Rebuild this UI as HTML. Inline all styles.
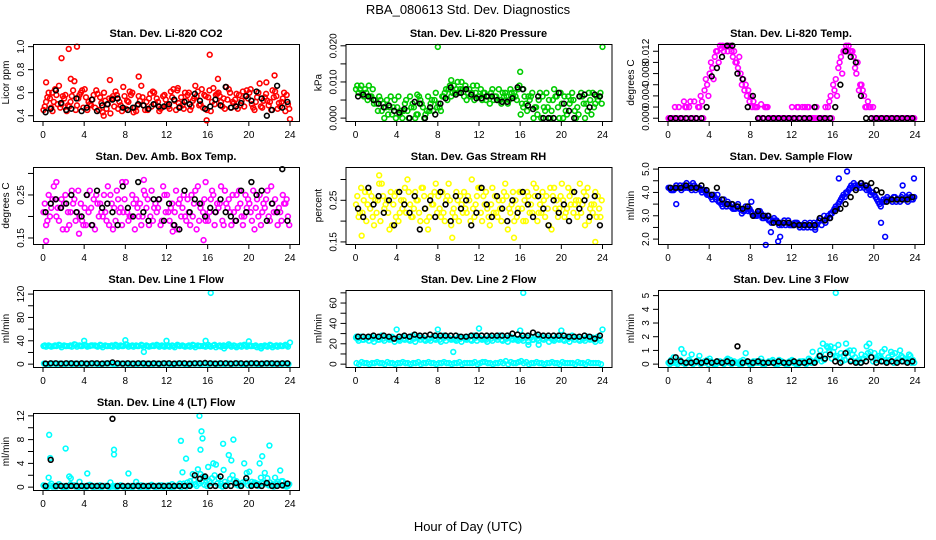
<!DOCTYPE html>
<html><head><meta charset="utf-8"><style>
html,body{margin:0;padding:0;background:#fff;}
svg{display:block;font-family:"Liberation Sans",Arial,sans-serif;}
</style></head><body>
<svg id="chart" width="936" height="540" viewBox="0 0 936 540">
<text x="468" y="14" text-anchor="middle" font-size="13">RBA_080613  Std. Dev. Diagnostics</text>
<text x="468" y="531" text-anchor="middle" font-size="13">Hour of Day (UTC)</text>
</svg>
<script>
// ---------- data (hour of day = i*0.5 + offset) ----------
const xTicks=[0,4,8,12,16,20,24];
// Panel 1: CO2
const co2A=[0.45,0.60,0.52,0.66,0.55,0.48,0.70,0.58,0.63,0.50,0.47,0.56,0.53,0.42,0.61,0.49,0.46,0.58,0.44,0.66,0.52,0.48,0.55,0.47,0.50,0.56,0.62,0.49,0.58,0.53,0.61,0.47,0.56,0.64,0.60,0.55,0.63,0.51,0.58,0.48,0.60,0.45,0.68,0.56,0.52,0.61,0.48,0.44];
const co2B=[0.52,0.47,0.58,0.50,0.44,0.57,0.49,0.62,0.45,0.54,0.59,0.43,0.50,0.57,0.46,0.65,0.52,0.43,0.57,0.49,0.55,0.60,0.44,0.58,0.46,0.53,0.48,0.60,0.45,0.66,0.50,0.57,0.44,0.58,0.52,0.65,0.47,0.59,0.53,0.62,0.50,0.56,0.47,0.53,0.62,0.46,0.55,0.50];
const co2C=[0.48,0.55,0.63,0.47,0.58,0.52,0.45,0.60,0.56,0.49,0.62,0.51,0.46,0.55,0.58,0.44,0.53,0.60,0.49,0.56,0.45,0.61,0.52,0.57,0.48,0.63,0.51,0.46,0.60,0.55,0.49,0.58,0.62,0.50,0.57,0.46,0.60,0.54,0.49,0.57,0.63,0.52,0.48,0.59,0.45,0.57,0.52,0.58];
const co2D=[0.56,0.44,0.50,0.57,0.49,0.62,0.55,0.47,0.52,0.58,0.45,0.60,0.55,0.48,0.52,0.57,0.61,0.47,0.53,0.45,0.59,0.50,0.46,0.54,0.61,0.45,0.56,0.53,0.48,0.57,0.63,0.45,0.52,0.59,0.48,0.54,0.52,0.46,0.61,0.55,0.47,0.60,0.53,0.49,0.56,0.51,0.60,0.46];
const co2OutX=[0.3,1.8,2.5,3.3,2.7,6.5,9.3,16.2,22.5,15.9,24,17,21.7,0.9,5.9,13.1];
const co2OutY=[0.69,0.90,0.98,1.00,0.72,0.71,0.74,0.93,0.75,0.36,0.37,0.72,0.69,0.60,0.40,0.64];
const co2K=[0.43,0.46,0.62,0.51,0.45,0.46,0.55,0.44,0.47,0.54,0.44,0.49,0.50,0.54,0.55,0.47,0.45,0.47,0.50,0.49,0.46,0.50,0.48,0.48,0.50,0.54,0.47,0.52,0.50,0.59,0.53,0.46,0.48,0.54,0.49,0.65,0.47,0.48,0.51,0.57,0.53,0.61,0.55,0.40,0.45,0.66,0.47,0.52];
// Panel 2: pressure
const presA=[0.008,0.009,0.007,0.006,0.004,0.002,0.005,0.001,0.003,0.000,0.002,0.004,0.001,0.003,0.006,0.002,0.004,0.006,0.008,0.009,0.007,0.006,0.008,0.005,0.006,0.007,0.004,0.006,0.005,0.007,0.008,0.006,0.001,0.004,0.006,0.003,0.000,0.007,0.002,0.006,0.004,0.001,0.007,0.003,0.006,0.002,0.007,0.005];
const presB=[0.007,0.006,0.009,0.004,0.006,0.000,0.003,0.005,0.001,0.004,0.006,0.000,0.005,0.001,0.004,0.007,0.002,0.008,0.006,0.008,0.010,0.005,0.007,0.009,0.005,0.006,0.008,0.005,0.007,0.004,0.006,0.008,0.003,0.006,0.000,0.005,0.003,0.005,0.008,0.000,0.006,0.004,0.002,0.006,0.000,0.005,0.004,0.007];
const presC=[0.009,0.007,0.005,0.008,0.002,0.004,0.001,0.003,0.006,0.002,0.000,0.003,0.006,0.000,0.002,0.005,0.003,0.007,0.009,0.007,0.008,0.009,0.006,0.007,0.008,0.005,0.007,0.006,0.004,0.006,0.007,0.005,0.004,0.002,0.007,0.001,0.006,0.003,0.005,0.003,0.000,0.006,0.005,0.001,0.004,0.007,0.003,0.006];
const presD=[0.008,0.008,0.006,0.005,0.005,0.003,0.006,0.000,0.002,0.005,0.003,0.001,0.004,0.002,0.005,0.003,0.006,0.005,0.007,0.010,0.008,0.007,0.009,0.006,0.007,0.006,0.005,0.008,0.006,0.005,0.007,0.009,0.006,0.005,0.003,0.007,0.002,0.000,0.006,0.007,0.002,0.005,0.000,0.007,0.004,0.001,0.006,0.004];
const presOutX=[8,16,24,9.3,6,16.3];
const presOutY=[0.0197,0.0128,0.0197,0.0105,0.0065,0.0080];
const presK=[0.006,0.0065,0.006,0.005,0.004,0.003,0.0035,0.002,0.0015,0.0025,0,0.0045,0.004,0,0.003,0.001,0.004,0.0055,0.0085,0.0065,0.007,0.008,0.0065,0.0055,0.0055,0.006,0.006,0.005,0.0045,0.0045,0.0055,0.0085,0.008,0.0035,0.0025,0.006,0,0,0,0.007,0.004,0.002,0,0.006,0.0065,0.003,0.0065,0.006];
// Panel 3: Li-820 temp
const tempA=[0,0,0.002,0.003,0.002,0.003,0.002,0.005,0.008,0.011,0.013,0.0128,0.013,0.010,0.008,0.006,0.004,0.002,0.0025,0.002,0,0,0,0,0.002,0.002,0.002,0.002,0,0,0,0.002,0.006,0.009,0.012,0.013,0.011,0.005,0.004,0.002,0,0,0,0,0,0,0,0];
const tempB=[0,0,0,0.002,0,0,0.003,0.006,0.009,0.012,0.013,0.012,0.011,0.009,0.007,0.005,0.003,0,0,0,0,0,0,0,0,0,0.002,0,0,0,0.002,0.004,0.007,0.011,0.013,0.012,0.008,0.006,0.002,0,0,0,0,0,0,0,0,0];
const tempC=[0,0.002,0,0.002,0.003,0,0.004,0.007,0.010,0.012,0.0125,0.013,0.012,0.010,0.006,0.004,0.002,0.002,0,0.002,0,0,0,0,0,0.002,0,0.002,0,0,0,0.003,0.005,0.010,0.012,0.012,0.009,0.006,0.002,0.002,0,0,0,0,0,0,0,0];
const tempD=[0,0,0,0,0,0.002,0,0.004,0.007,0.010,0.012,0.013,0.012,0.011,0.005,0.003,0.002,0,0.002,0,0,0,0,0,0,0,0,0,0.002,0,0,0,0.004,0.008,0.012,0.012,0.010,0.005,0.003,0.002,0,0,0,0,0,0,0,0];
const tempK=[0,0,0,0,0,0,0,0.002,0.0075,0.009,0.011,0.013,0.013,0.008,0.007,0.002,0.004,0,0,0,0,0,0,0,0,0,0,0,0.002,0,0,0,0.002,0.006,0.012,0.011,0.010,0.004,0,0,0,0,0,0,0,0,0,0];
// Panel 4: amb box temp
const ambA=[0.21,0.25,0.27,0.19,0.23,0.18,0.24,0.20,0.22,0.26,0.17,0.23,0.21,0.25,0.19,0.22,0.28,0.20,0.24,0.18,0.22,0.26,0.21,0.19,0.25,0.23,0.17,0.22,0.24,0.20,0.27,0.21,0.19,0.25,0.22,0.18,0.24,0.21,0.26,0.20,0.23,0.17,0.25,0.22,0.19,0.24,0.21,0.23];
const ambB=[0.18,0.22,0.20,0.24,0.17,0.26,0.21,0.19,0.25,0.18,0.23,0.20,0.27,0.17,0.24,0.21,0.19,0.23,0.20,0.26,0.18,0.22,0.24,0.25,0.19,0.21,0.24,0.20,0.18,0.26,0.22,0.19,0.24,0.21,0.27,0.23,0.18,0.25,0.20,0.22,0.19,0.24,0.21,0.26,0.23,0.18,0.25,0.20];
const ambC=[0.23,0.20,0.24,0.22,0.25,0.21,0.19,0.23,0.18,0.22,0.25,0.21,0.19,0.23,0.26,0.18,0.21,0.25,0.22,0.20,0.24,0.19,0.22,0.27,0.21,0.18,0.23,0.25,0.21,0.23,0.19,0.24,0.21,0.18,0.23,0.26,0.21,0.19,0.23,0.25,0.21,0.22,0.18,0.24,0.27,0.21,0.19,0.24];
const ambD=[0.19,0.24,0.22,0.17,0.21,0.23,0.26,0.18,0.21,0.24,0.20,0.25,0.18,0.22,0.21,0.24,0.20,0.17,0.23,0.25,0.20,0.23,0.18,0.21,0.22,0.26,0.20,0.19,0.25,0.17,0.23,0.20,0.26,0.23,0.19,0.22,0.25,0.22,0.18,0.24,0.26,0.20,0.23,0.20,0.21,0.22,0.23,0.18];
const ambOutX=[0.3,1.3,15.6,7.7,9.8,15.8,3.5,12.6];
const ambOutY=[0.143,0.28,0.145,0.28,0.285,0.28,0.16,0.165];
const ambK=[0.21,0.23,0.24,0.22,0.23,0.25,0.21,0.20,0.25,0.18,0.26,0.22,0.23,0.21,0.18,0.27,0.22,0.20,0.28,0.21,0.19,0.24,0.24,0.19,0.23,0.18,0.17,0.26,0.21,0.24,0.23,0.20,0.22,0.21,0.24,0.21,0.20,0.19,0.26,0.21,0.28,0.25,0.26,0.19,0.23,0.21,0.31,0.19];
// Panel 5: gas stream RH
const rhA=[0.24,0.28,0.20,0.26,0.22,0.29,0.25,0.19,0.27,0.23,0.30,0.21,0.25,0.28,0.18,0.24,0.26,0.22,0.29,0.23,0.20,0.27,0.25,0.21,0.28,0.24,0.19,0.26,0.23,0.29,0.22,0.25,0.27,0.20,0.24,0.28,0.22,0.26,0.18,0.25,0.29,0.23,0.27,0.21,0.24,0.28,0.22,0.26];
const rhB=[0.21,0.25,0.27,0.19,0.29,0.23,0.18,0.26,0.22,0.28,0.24,0.27,0.20,0.23,0.26,0.29,0.21,0.25,0.19,0.27,0.24,0.22,0.30,0.26,0.20,0.23,0.28,0.21,0.25,0.18,0.27,0.23,0.20,0.26,0.29,0.22,0.25,0.19,0.28,0.23,0.21,0.26,0.24,0.29,0.19,0.23,0.27,0.21];
const rhC=[0.26,0.22,0.24,0.21,0.25,0.26,0.22,0.24,0.20,0.25,0.27,0.23,0.22,0.26,0.21,0.27,0.23,0.20,0.25,0.21,0.26,0.23,0.20,0.24,0.22,0.27,0.24,0.22,0.20,0.26,0.24,0.21,0.23,0.27,0.22,0.20,0.27,0.23,0.26,0.21,0.25,0.28,0.22,0.25,0.27,0.20,0.24,0.23];
const rhD=[0.22,0.27,0.23,0.25,0.20,0.24,0.27,0.21,0.25,0.22,0.21,0.25,0.28,0.20,0.24,0.22,0.27,0.26,0.22,0.25,0.22,0.26,0.23,0.28,0.26,0.21,0.22,0.25,0.27,0.23,0.20,0.27,0.25,0.22,0.26,0.24,0.21,0.28,0.23,0.26,0.22,0.24,0.25,0.22,0.26,0.24,0.21,0.25];
const rhOutX=[0.6,2.3,9.4,15.4,23.3];
const rhOutY=[0.165,0.31,0.16,0.16,0.15];
const rhK=[0.23,0.21,0.28,0.24,0.26,0.22,0.25,0.19,0.27,0.24,0.22,0.26,0.18,0.23,0.25,0.21,0.27,0.24,0.20,0.26,0.23,0.25,0.19,0.22,0.28,0.24,0.21,0.26,0.23,0.20,0.25,0.22,0.27,0.24,0.21,0.26,0.23,0.19,0.25,0.22,0.24,0.20,0.27,0.23,0.25,0.21,0.26,0.19];
// Panel 6: sample flow
const flowA=[4.2,4.1,4.2,4.3,4.2,4.3,4.2,4.1,3.9,3.8,3.6,3.5,3.4,3.3,3.3,3.4,3.2,3.0,3.1,2.9,2.7,2.8,2.6,2.7,2.6,2.7,2.6,2.5,2.6,2.7,2.8,3.0,3.2,3.5,3.9,4.1,4.4,4.3,4.2,4.1,3.9,3.5,3.6,3.7,3.8,3.6,3.7,3.8];
const flowB=[4.1,4.3,4.1,4.4,4.1,4.2,4.0,3.9,3.7,3.9,3.4,3.6,3.3,3.5,3.2,3.2,3.0,3.1,2.9,2.8,2.9,2.6,2.8,2.6,2.7,2.5,2.7,2.7,2.5,2.9,2.7,3.1,3.4,3.7,4.0,4.3,4.2,4.4,4.1,4.0,3.7,3.6,3.8,3.6,3.7,3.9,3.6,3.7];
const flowC=[4.2,4.2,4.3,4.2,4.3,4.1,4.1,4.0,3.8,3.7,3.5,3.4,3.5,3.4,3.1,3.3,3.1,3.0,2.9,3.0,2.8,2.7,2.7,2.8,2.6,2.6,2.5,2.6,2.7,2.8,3.0,2.9,3.3,3.6,3.8,4.2,4.3,4.2,4.3,3.9,3.8,3.4,3.7,3.7,3.6,3.8,3.8,3.7];
const flowD=[4.1,4.2,4.2,4.2,4.4,4.2,4.1,3.9,3.9,3.6,3.7,3.5,3.3,3.3,3.2,3.3,3.0,3.2,3.0,2.8,2.8,2.7,2.6,2.6,2.7,2.6,2.6,2.5,2.6,2.6,2.9,3.1,3.3,3.8,4.0,4.2,4.3,4.3,4.2,4.0,3.6,3.7,3.7,3.8,3.7,3.7,3.9,3.8];
const flowOutX=[0.8,9.5,10.7,10.9,8.1,16.6,17.4,20.7,21.1,22.8,23.9,10.0,14.3];
const flowOutY=[3.5,1.75,1.9,2.1,3.6,4.6,4.9,2.7,2.1,4.3,4.6,2.3,2.4];
const flowK=[4.2,4.2,4.2,4.3,4.2,4.2,4.3,4.1,3.9,4.2,3.7,3.5,3.5,3.4,3.3,3.4,3.0,3.2,3.0,3.0,2.7,2.7,2.7,2.7,2.6,2.6,2.6,2.6,2.6,2.9,2.8,2.9,3.2,3.3,3.5,3.8,4.1,4.4,4.3,4.4,4.1,4.0,3.6,3.7,3.7,3.7,3.7,3.8];
// Panel 7: line 1 flow
const l1A=[31,32,31,33,32,31,34,32,33,31,32,33,32,31,33,32,34,31,32,33,32,31,33,32,31,32,33,32,31,33,32,31,33,32,31,32,34,32,31,33,32,31,30,32,33,31,32,33];
const l1B=[30,30,31,29,31,30,30,31,30,32,30,29,31,30,30,31,30,30,31,29,30,31,30,30,30,29,31,30,30,29,31,30,30,29,30,31,30,29,30,30,31,29,30,30,29,30,31,30];
const l1C=[1,0,1,1,0,1,1,0,1,1,1,0,1,1,0,1,1,1,0,1,1,0,1,1,1,0,1,1,0,1,1,1,0,1,1,0,1,1,1,0,1,1,0,1,1,1,0,1];
const l1D=[32,31,32,32,31,32,33,31,32,32,31,32,31,32,32,31,33,32,31,32,31,32,32,31,32,31,32,31,32,32,31,32,31,33,32,31,32,31,32,32,31,32,31,31,32,32,31,32];
const l1E=[0,1,0,1,1,0,1,1,0,1,0,1,1,0,1,1,0,1,1,0,1,1,0,1,0,1,1,0,1,1,0,1,1,0,1,1,0,1,0,1,1,0,1,1,0,1,1,0];
const l1OutX=[16.3,4,8,12,15.8,20,9.8,21.2,24,17.6];
const l1OutY=[122,40,41,40,40,39,21,27,37,27];
const l1K=[1,1.5,1.5,1,1.5,1.5,1,1.5,1,1.5,1.5,1,1.5,3,1.5,1,1.5,1,1.5,1.5,1,1.5,1,1.5,1.5,1,1.5,1.5,1,1.5,1.5,2,1.5,1,1.5,1.5,1,1.5,1.5,1,1.5,1.5,1,1.5,1.5,1,1.5,1.5];
// Panel 8: line 2 flow
const l2A=[26,27,25,27,26,28,26,27,25,27,26,28,27,26,25,27,26,28,26,25,27,26,27,28,26,25,27,26,28,26,27,25,26,27,26,28,27,26,25,27,26,27,28,26,25,27,26,27];
const l2B=[23,24,23,22,24,23,24,22,23,24,23,22,24,23,23,24,22,23,24,23,22,24,23,23,24,22,23,24,23,22,24,23,23,22,24,23,24,22,23,24,23,22,24,23,23,24,22,23];
const l2C=[1,2,1,1,2,1,2,1,1,2,1,1,2,1,2,1,1,2,1,1,2,1,1,2,1,2,1,1,2,3,2,1,3,2,1,2,1,1,2,1,2,1,1,2,1,2,1,1];
const l2D=[25,24,26,25,24,25,25,26,24,25,24,25,26,24,25,25,24,26,25,24,25,25,24,26,25,24,25,26,24,25,25,24,25,26,24,25,25,26,24,25,24,25,26,24,25,25,24,25];
const l2E=[0,1,0,1,1,0,1,0,1,1,0,1,0,1,1,0,1,1,0,1,0,1,1,0,2,1,0,1,1,0,1,2,1,0,1,1,0,1,1,0,1,1,0,1,0,1,1,0];
const l2OutX=[16.3,9.5,4,8,12,16,20,24,16.8,17.8,0.1];
const l2OutY=[70,12,34,34,35,33,33,34,19,19,27];
const l2K=[27,27,27,28,27,28,27,25,27,28,27,29,28,28,29,28,28,28,28,28,27,27,28,28,28,28,28,28,28,28,30,29,28,28,31,29,28,28,28,28,28,27,27,27,28,27,25,28];
// Panel 9: line 3 flow
const l3A=[0.1,0.5,0.2,0.8,0.3,0.1,0.6,0.2,0.4,0.1,0.2,0.1,0.3,0.1,0.2,0.8,0.1,0.2,0.4,0.1,0.2,0.1,0.2,0.1,0.3,0.1,0.2,0.1,0.9,0.4,1.5,1.2,0.9,1.4,0.6,0.5,1.0,0.3,0.4,1.5,0.8,0.6,1.1,0.3,0.8,1.0,0.4,0.6];
const l3B=[0.3,0.1,1.1,0.1,0.7,0.2,0.1,0.3,0.1,0.2,0.1,0.4,0.1,0.1,0.3,0.1,0.2,0.1,0.1,0.2,0.1,0.3,0.1,0.2,0.1,0.2,0.1,0.3,0.2,1.0,0.7,1.3,0.5,0.8,1.5,0.3,0.2,0.7,1.3,0.5,0.3,0.9,0.2,0.7,0.3,0.5,0.2,0.3];
const l3C=[0.0,0.1,0.3,0.0,0.2,0.1,0.0,0.1,0.2,0.0,0.1,0.3,0.0,0.1,0.0,0.2,0.0,0.1,0.0,0.1,0.3,0.0,0.1,0.0,0.1,0.0,0.2,0.4,0.1,0.6,0.3,0.9,1.2,0.5,0.3,1.0,0.5,0.1,0.6,0.9,0.3,0.5,0.3,0.9,0.2,0.6,0.3,0.1];
const l3D=[0.1,0.0,0.1,0.1,0.0,0.3,0.1,0.0,0.0,0.1,0.0,0.1,0.2,0.0,0.1,0.0,0.1,0.2,0.0,0.1,0.0,0.1,0.0,0.2,0.0,0.1,0.0,0.1,0.3,0.2,1.3,0.4,0.6,0.2,0.9,0.7,0.2,0.4,0.8,0.2,0.6,0.2,0.5,0.1,0.4,0.2,0.7,0.1];
const l3OutX=[16.3];
const l3OutY=[5.2];
const l3K=[0.2,0.5,0.2,0.1,0.1,0.2,0.1,0.2,0.1,0.2,0.1,0.2,0.1,1.3,0.1,0.2,0.1,0.2,0.1,0.1,0.1,0.2,0.1,0.1,0.2,0.1,0.1,0.2,0.1,0.6,0.4,0.7,0.2,0.1,0.8,0.2,0.1,0.1,0.2,0.5,0.1,0.2,0.1,0.2,0.1,0.2,0.1,0.2];
// Panel 10: line 4 (LT) flow
const l4A=[0.3,1.6,0.2,0.5,0.2,1.8,0.3,0.9,0.2,0.4,0.2,0.3,0.2,0.8,0.2,0.3,0.1,0.2,0.9,0.3,0.2,0.4,0.2,0.3,0.1,0.5,0.2,2.5,0.8,2.2,3.0,1.8,3.4,4.0,1.5,2.9,5.4,1.2,0.5,4.0,2.6,0.8,4.0,2.4,0.8,1.6,2.8,0.3];
const l4B=[0.1,0.6,0.1,0.2,0.1,0.3,0.1,0.2,0.1,0.1,0.2,0.1,0.1,0.2,0.1,0.1,0.2,0.1,0.1,0.2,0.1,0.1,0.3,0.1,0.2,0.1,0.6,0.3,1.0,0.5,2.2,1.5,0.7,3.8,0.6,0.4,4.5,1.0,0.3,2.4,0.9,0.6,0.8,1.5,0.5,0.9,1.0,0.2];
const l4C=[0.1,0.3,0.1,0.2,0.0,0.5,0.1,0.2,0.0,0.3,0.1,0.0,0.2,0.1,0.0,0.2,0.1,0.0,0.3,0.1,0.0,0.2,0.1,0.0,0.3,0.1,0.2,0.6,0.3,1.2,0.6,0.4,1.0,2.0,0.3,0.9,1.4,0.5,0.2,1.0,0.4,0.6,1.6,0.5,0.3,0.6,1.0,0.1];
const l4D=[0.0,0.1,0.2,0.0,0.1,0.2,0.0,0.1,0.3,0.0,0.1,0.2,0.0,0.1,0.2,0.0,0.1,0.2,0.0,0.1,0.2,0.0,0.1,0.2,0.0,0.2,0.0,0.1,0.4,0.2,0.9,0.2,1.5,0.6,0.1,0.4,2.0,0.3,0.8,0.3,0.5,0.2,0.6,0.3,0.1,0.4,0.2,0.5];
const l4OutX=[0.7,0.6,2.2,6.9,6.9,13.4,13.9,15.2,15.4,15.5,15.3,17.5,18.5,22.0,21.3,2.7,4.3,8.3];
const l4OutY=[4.9,8.8,6.5,6.3,5.5,7.8,4.8,12.0,9.4,8.2,6.3,7.3,8.0,7.0,5.2,1.5,2.3,2.3];
const l4K=[0.2,4.6,0.2,0.2,0.2,0.2,0.2,0.2,0.2,0.2,0.2,0.2,0.2,11.5,0.2,0.2,0.2,0.2,0.2,0.2,0.2,0.2,0.2,0.2,0.2,0.2,0.2,0.2,0.2,2.0,1.4,1.8,0.2,0.2,1.8,0.2,0.2,0.7,0.2,1.5,0.2,0.3,0.2,0.7,0.2,0.2,0.3,0.6];

// ---------- drawing ----------
const svg=document.getElementById('chart');
const NS='http://www.w3.org/2000/svg';
function mk(tag,attrs,parent){const e=document.createElementNS(NS,tag);for(const k in attrs)e.setAttribute(k,attrs[k]);(parent||svg).appendChild(e);return e;}
const COLX=[33,345.5,658], ROWY=[44,167,290,413], W=266, H=77;

function panel(o){
  const L=COLX[o.c], T=ROWY[o.r];
  const g=mk('g',{});
  
  
  const xs=h=>L+10+h*(247/24);
  const ys=v=>T+H-(v-o.ymin)/(o.ymax-o.ymin)*H;
  const t=mk('text',{x:L+W/2,y:T-7,'text-anchor':'middle','font-size':'11','font-weight':'bold'},g);
  t.textContent=o.title;
  
  
  xTicks.forEach(h=>{
    mk('line',{x1:xs(h),x2:xs(h),y1:T+H,y2:T+H+5,stroke:'#000','stroke-width':1},g);
    const tx=mk('text',{x:xs(h),y:T+H+17,'text-anchor':'middle','font-size':'10'},g);
    tx.textContent=h;
    
    
  });
  mk('line',{x1:xs(0),x2:xs(24),y1:T+H+0.5,y2:T+H+0.5,stroke:'#000'},g);
  o.yt.forEach((v,i)=>{
    const y=ys(v);
    mk('line',{x1:L-5,x2:L,y1:y,y2:y,stroke:'#000'},g);
    if(o.yl[i]){
      const ty=mk('text',{x:L-9,y:y,'text-anchor':'middle','font-size':'10',transform:`rotate(-90 ${L-9} ${y})`},g);
      ty.textContent=o.yl[i];
      
      
    }
  });
  const yt=mk('text',{x:L-24,y:T+H/2,'text-anchor':'middle','font-size':'10',transform:`rotate(-90 ${L-24} ${T+H/2})`},g);
  yt.textContent=o.ylab;
  
  
  function pts(arr,off,col,nm){
    arr.forEach((v,i)=>{
      const p=mk('circle',{cx:xs(i*0.5+off),cy:ys(v),r:2.4,fill:'none',stroke:col,'stroke-width':1.6},g);
      
      
    });
  }
  o.series.forEach(s=>pts(s[0],s[1],o.col,o.name+'-point'));
  if(o.ox) o.ox.forEach((h,i)=>{
    const p=mk('circle',{cx:xs(h),cy:ys(o.oy[i]),r:2.4,fill:'none',stroke:o.col,'stroke-width':1.6},g);
    
    
  });
  pts(o.black,0.25,'#000',o.name+'-mean-point');
  const b=mk('rect',{x:L+0.5,y:T+0.5,width:W,height:H,fill:'none',stroke:'#000','stroke-width':1},g);
  
  
}

panel({name:'co2',c:0,r:0,title:'Stan. Dev. Li-820 CO2',ylab:'Licor ppm',col:'#ff0000',ymin:0.354,ymax:1.023,yt:[0.4,0.6,0.8,1.0],yl:['0.4','0.6','0.8','1.0'],series:[[co2A,0.05],[co2B,0.3],[co2C,0.175],[co2D,0.425]],ox:co2OutX,oy:co2OutY,black:co2K});
panel({name:'pressure',c:1,r:0,title:'Stan. Dev. Li-820 Pressure',ylab:'kPa',col:'#00cc00',ymin:-0.0008,ymax:0.0205,yt:[0,0.005,0.01,0.015,0.02],yl:['0.000','','0.010','','0.020'],series:[[presA,0.05],[presB,0.3],[presC,0.175],[presD,0.425]],ox:presOutX,oy:presOutY,black:presK});
panel({name:'li820-temp',c:2,r:0,title:'Stan. Dev. Li-820 Temp.',ylab:'degrees C',col:'#ff00ff',ymin:-0.0005,ymax:0.0133,yt:[0,0.002,0.004,0.006,0.008,0.01,0.012],yl:['0.000','','0.004','','0.008','','0.012'],series:[[tempA,0.05],[tempB,0.3],[tempC,0.175],[tempD,0.425]],black:tempK});
panel({name:'amb-box-temp',c:0,r:1,title:'Stan. Dev. Amb. Box Temp.',ylab:'degrees C',col:'#ff00ff',ymin:0.136,ymax:0.315,yt:[0.15,0.2,0.25,0.3],yl:['0.15','','0.25',''],series:[[ambA,0.05],[ambB,0.3],[ambC,0.175],[ambD,0.425]],ox:ambOutX,oy:ambOutY,black:ambK});
panel({name:'gas-stream-rh',c:1,r:1,title:'Stan. Dev. Gas Stream RH',ylab:'percent',col:'#ffff00',ymin:0.145,ymax:0.33,yt:[0.15,0.2,0.25,0.3],yl:['0.15','','0.25',''],series:[[rhA,0.05],[rhB,0.3],[rhC,0.175],[rhD,0.425]],ox:rhOutX,oy:rhOutY,black:rhK});
panel({name:'sample-flow',c:2,r:1,title:'Stan. Dev. Sample Flow',ylab:'ml/min',col:'#0000ff',ymin:1.79,ymax:5.09,yt:[2,2.5,3,3.5,4,4.5,5],yl:['2.0','','3.0','','4.0','','5.0'],series:[[flowA,0.05],[flowB,0.3],[flowC,0.175],[flowD,0.425]],ox:flowOutX,oy:flowOutY,black:flowK});
panel({name:'line1-flow',c:0,r:2,title:'Stan. Dev. Line 1 Flow',ylab:'ml/min',col:'#00ffff',ymin:-4.9,ymax:127,yt:[0,20,40,60,80,100,120],yl:['0','','40','','80','','120'],series:[[l1A,0.05],[l1B,0.3],[l1D,0.175],[l1C,0.1],[l1E,0.35]],ox:l1OutX,oy:l1OutY,black:l1K});
panel({name:'line2-flow',c:1,r:2,title:'Stan. Dev. Line 2 Flow',ylab:'ml/min',col:'#00ffff',ymin:-2.8,ymax:72.8,yt:[0,10,20,30,40,50,60,70],yl:['0','','20','','40','','60',''],series:[[l2A,0.05],[l2B,0.3],[l2D,0.175],[l2C,0.1],[l2E,0.35]],ox:l2OutX,oy:l2OutY,black:l2K});
panel({name:'line3-flow',c:2,r:2,title:'Stan. Dev. Line 3 Flow',ylab:'ml/min',col:'#00ffff',ymin:-0.21,ymax:5.41,yt:[0,1,2,3,4,5],yl:['0','1','2','3','4','5'],series:[[l3A,0.05],[l3B,0.3],[l3C,0.175],[l3D,0.425]],ox:l3OutX,oy:l3OutY,black:l3K});
panel({name:'line4-flow',c:0,r:3,title:'Stan. Dev. Line 4 (LT) Flow',ylab:'ml/min',col:'#00ffff',ymin:-0.48,ymax:12.48,yt:[0,2,4,6,8,10,12],yl:['0','','4','','8','','12'],series:[[l4A,0.05],[l4B,0.3],[l4C,0.175],[l4D,0.425]],ox:l4OutX,oy:l4OutY,black:l4K});
</script>
</body></html>
